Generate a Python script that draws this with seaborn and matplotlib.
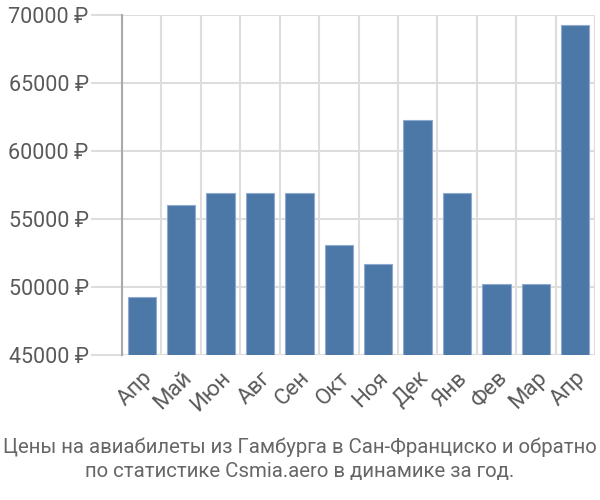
import matplotlib
matplotlib.use("Agg")
import matplotlib.pyplot as plt
import seaborn as sns
import numpy as np
import pandas as pd

months = ["Апр", "Май", "Июн", "Авг", "Сен", "Окт", "Ноя", "Дек", "Янв", "Фев", "Мар", "Апр"]
prices = [49300, 56050, 56900, 56900, 56900, 53100, 51700, 62250, 56900, 50200, 50200, 69300]
yticks = [45000, 50000, 55000, 60000, 65000, 70000]
caption = ["Цены на авиабилеты из Гамбурга в Сан-Франциско и обратно",
           "по статистике Csmia.aero в динамике за год."]

sns.set_theme(style="white")
plt.rcParams['font.family'] = ['Roboto', 'DejaVu Sans']

df = pd.DataFrame({"idx": [str(i) for i in range(len(months))], "price": prices})

fig = plt.figure(figsize=(6, 5), dpi=100)
ax = fig.add_axes([122/600, 1-355/500, (595-122)/600, (355-15)/500])

sns.barplot(data=df, x="idx", y="price", color="#4c78a8", saturation=1,
            width=0.72, edgecolor="#8faad0", linewidth=0.8, ax=ax, zorder=3)

ax.set_ylim(45000, 70000)
ax.set_xlim(-0.5, len(months) - 0.5)
ax.set_yticks(yticks)
ax.set_yticklabels([f"{v} ₽" for v in yticks], fontsize=15.5, color="#5a5a5a")
ax.set_xticks(range(len(months)))
ax.set_xticklabels(months, rotation=45, ha="right", rotation_mode="anchor",
                   fontsize=16, color="#5a5a5a")
ax.set_xticks(np.arange(-0.5, len(months), 1), minor=True)
ax.tick_params(axis="x", which="major", length=0, pad=9)
ax.tick_params(axis="x", which="minor", length=20, width=1.5, color="#dddddd")
ax.tick_params(axis="y", length=22, width=1.5, color="#dddddd", pad=2, left=True)
ax.grid(axis="y", which="major", color="#dddddd", linewidth=1.5, zorder=0)
ax.grid(axis="x", which="minor", color="#dddddd", linewidth=1.5, zorder=0)
ax.grid(axis="x", which="major", visible=False)
ax.set_axisbelow(True)
for s in ["top", "right"]:
    ax.spines[s].set_visible(False)
ax.spines["bottom"].set_visible(False)
ax.spines["left"].set_color("#aaaaaa")
ax.spines["left"].set_linewidth(1.5)
ax.set_xlabel("")
ax.set_ylabel("")

fig.text(0.5, 1-447/500, caption[0], ha="center", va="center", fontsize=14.7,
         color="#666666")
fig.text(0.5, 1-472/500, caption[1], ha="center", va="center", fontsize=14.7,
         color="#666666")

fig.savefig("out.png", dpi=100)
